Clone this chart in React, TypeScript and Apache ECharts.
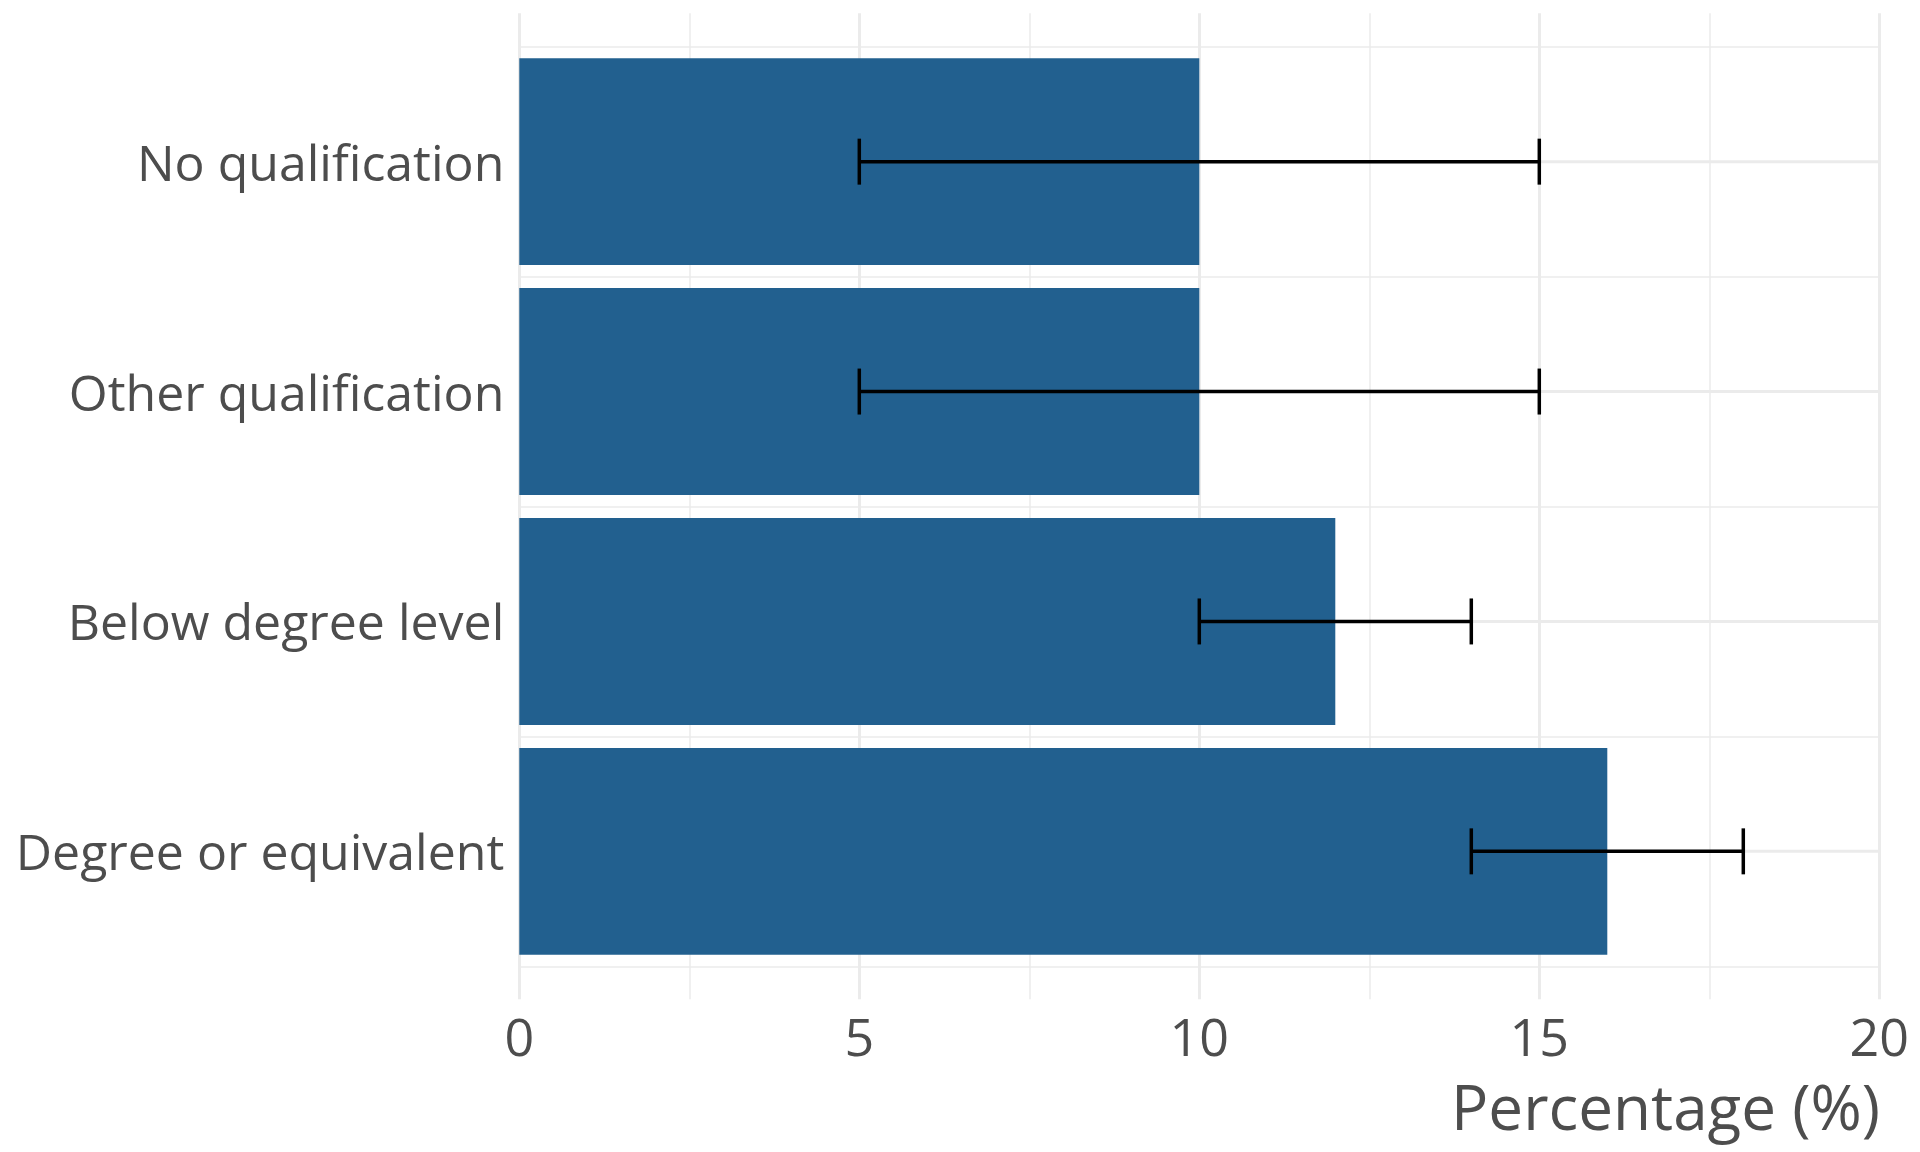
import React, { useEffect, useRef } from "react";
import * as echarts from "echarts";

const categories = ["No qualification", "Other qualification", "Below degree level", "Degree or equivalent"];
const percentages = [10, 10, 12, 16];
const lowerCI = [5, 5, 10, 14];
const upperCI = [15, 15, 14, 18];
const xTicks = [0, 5, 10, 15, 20];
const xTitle = "Percentage (%)";

const FONT = "Open Sans";
const TEXT = "#4D4D4D";
const GRIDC = "#EBEBEB";
const BAR = "#22608F";

export default function App() {
  const ref = useRef<HTMLDivElement>(null);
  useEffect(() => {
    document.body.style.margin = "0";
    const chart = echarts.init(ref.current!, null, { renderer: "svg" });
    const xMin = xTicks[0];
    const xMax = xTicks[xTicks.length - 1];
    const step = xTicks[1] - xTicks[0];
    const option: any = {
      animation: false,
      backgroundColor: "#FFFFFF",
      textStyle: { fontFamily: FONT },
      graphic: [
        {
          type: "text",
          x: 1880,
          y: 1106,
          silent: true,
          style: {
            text: xTitle,
            align: "right",
            verticalAlign: "middle",
            fontFamily: FONT,
            fontSize: 62,
            fill: TEXT,
          },
        },
      ],
      grid: [
        { left: 519.3, width: 1360, top: 46.7, bottom: 185.7 },
        { left: 519.3, width: 1360, top: 13.3, bottom: 152.7 },
      ],
      xAxis: [
        { type: "value", gridIndex: 0, min: xMin, max: xMax, interval: step, show: false },
        {
          type: "value",
          gridIndex: 1,
          min: xMin,
          max: xMax,
          interval: step,
          axisLine: { show: false },
          axisTick: { show: false },
          axisLabel: { fontFamily: FONT, fontSize: 52, color: TEXT, margin: 10 },
          splitLine: { show: true, lineStyle: { color: GRIDC, width: 3 } },
          minorTick: { show: false, splitNumber: 2 },
          minorSplitLine: { show: true, lineStyle: { color: GRIDC, width: 1.5 } },
        },
      ],
      yAxis: [
        {
          type: "category",
          gridIndex: 0,
          data: categories,
          inverse: true,
          axisLine: { show: false },
          axisTick: { show: false },
          axisLabel: { fontFamily: FONT, fontSize: 50, color: TEXT, margin: 15 },
          splitLine: { show: true, lineStyle: { color: GRIDC, width: 1.5 } },
        },
        { type: "value", gridIndex: 1, show: false, splitLine: { show: false } },
      ],
      series: [
        {
          type: "custom",
          xAxisIndex: 0,
          yAxisIndex: 0,
          z: 1,
          silent: true,
          data: categories.map((_, i) => [i]),
          renderItem: (params: any, api: any) => {
            const i = api.value(0);
            const a = api.coord([xMin, i]);
            const b = api.coord([xMax, i]);
            return {
              type: "line",
              shape: { x1: a[0], y1: a[1], x2: b[0], y2: b[1] },
              style: { stroke: GRIDC, lineWidth: 3 },
            };
          },
        },
        {
          type: "bar",
          xAxisIndex: 0,
          yAxisIndex: 0,
          z: 2,
          barWidth: "90%",
          data: percentages,
          itemStyle: { color: BAR },
        },
        {
          type: "custom",
          xAxisIndex: 0,
          yAxisIndex: 0,
          z: 3,
          silent: true,
          data: categories.map((_, i) => [i, lowerCI[i], upperCI[i]]),
          renderItem: (params: any, api: any) => {
            const i = api.value(0);
            const lo = api.coord([api.value(1), i]);
            const hi = api.coord([api.value(2), i]);
            const h = api.size([0, 1])[1] * 0.2 / 2;
            const st = { stroke: "#000000", lineWidth: 3.5 };
            return {
              type: "group",
              children: [
                { type: "line", shape: { x1: lo[0], y1: lo[1], x2: hi[0], y2: hi[1] }, style: st },
                { type: "line", shape: { x1: lo[0], y1: lo[1] - h, x2: lo[0], y2: lo[1] + h }, style: st },
                { type: "line", shape: { x1: hi[0], y1: hi[1] - h, x2: hi[0], y2: hi[1] + h }, style: st },
              ],
            };
          },
        },
      ],
    };
    chart.setOption(option);
    return () => chart.dispose();
  }, []);
  return <div ref={ref} style={{ width: 1920, height: 1152 }} />;
}
